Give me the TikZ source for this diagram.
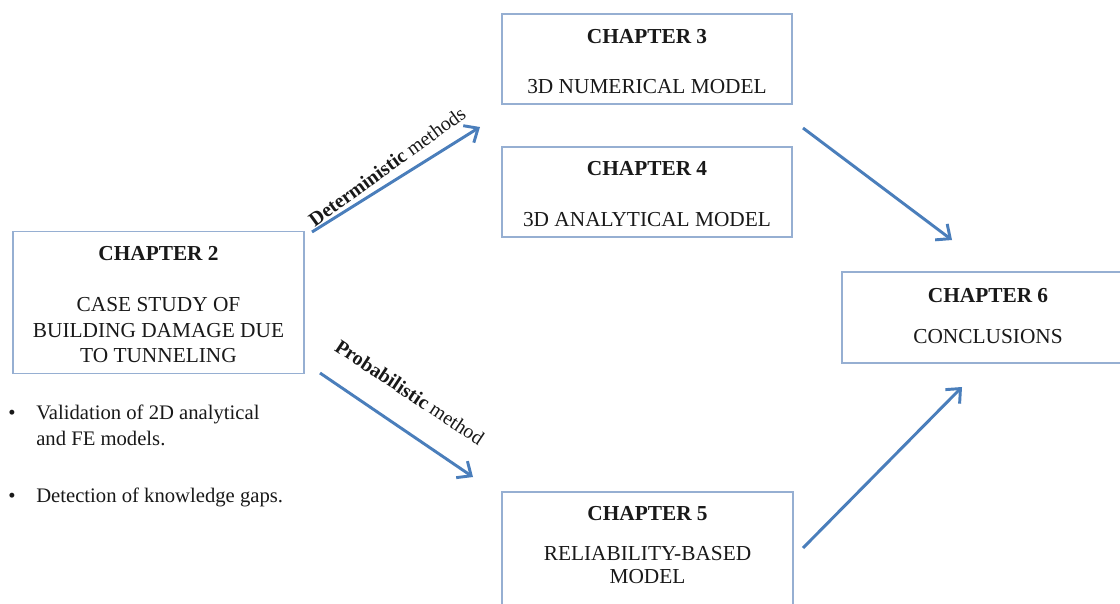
\documentclass[tikz,border=0pt]{standalone}
\usepackage{fontspec}
\setmainfont{Liberation Serif}
\usetikzlibrary{arrows.meta}
\definecolor{boxline}{RGB}{150,175,210}
\definecolor{arrowblue}{RGB}{74,126,187}
\definecolor{txt}{RGB}{25,25,25}
\begin{document}
\begin{tikzpicture}[x=0.75pt,y=-0.75pt,
 chbox/.style={draw=boxline,line width=1pt,rectangle,inner sep=0pt},
 ttl/.style={anchor=base,inner sep=0pt,text=txt,font=\fontsize{16}{19}\selectfont\bfseries},
 body/.style={anchor=base,inner sep=0pt,text=txt,font=\fontsize{16}{19}\selectfont},
 blt/.style={anchor=base west,inner sep=0pt,text=txt,font=\fontsize{15.5}{19}\selectfont},
 conn/.style={draw=arrowblue,line width=2.2pt,-{Straight Barb[length=8.5pt,width=15pt]}},
 lbl/.style={anchor=base,inner sep=0pt,text=txt,font=\fontsize{15}{18}\selectfont}]
\useasboundingbox (0,0) rectangle (1120,603);
\clip (0,0) rectangle (1120,603);
\fill[white] (0,0) rectangle (1120,603);

% boxes
\node[chbox,minimum width=218.25pt,minimum height=106.5pt] (c2) at (158.5,302.5) {};
\node[chbox,minimum width=217.5pt,minimum height=67.5pt] (c3) at (647,59) {};
\node[chbox,minimum width=217.5pt,minimum height=67.5pt] (c4) at (647,192) {};
\node[chbox,minimum width=218.25pt,minimum height=96pt] (c5) at (647.5,556) {};
\node[chbox,minimum width=219pt,minimum height=68.25pt] (c6) at (988,317.5) {};

% texts
\node[ttl] (c2a) at (158.5,260) {CHAPTER 2};
\node[body] (c2b) at (158.5,311) {CASE STUDY OF};
\node[body] (c2c) at (158.5,337) {BUILDING DAMAGE DUE};
\node[body] (c2d) at (158.5,362) {TO TUNNELING};

\node[ttl] (c3a) at (647,43) {CHAPTER 3};
\node[body] (c3b) at (647,93) {3D NUMERICAL MODEL};

\node[ttl] (c4a) at (647,175) {CHAPTER 4};
\node[body] (c4b) at (647,226) {3D ANALYTICAL MODEL};

\node[ttl] (c5a) at (647.5,520) {CHAPTER 5};
\node[body] (c5b) at (647.5,560) {RELIABILITY-BASED};
\node[body] (c5c) at (647.5,583) {MODEL};

\node[ttl] (c6a) at (988,302) {CHAPTER 6};
\node[body] (c6b) at (988,343) {CONCLUSIONS};

% bullets
\node[blt] (b1) at (8,419) {•};
\node[blt] (b1t) at (36,419) {Validation of 2D analytical};
\node[blt] (b1u) at (36,445) {and FE models.};
\node[blt] (b2) at (8,502) {•};
\node[blt] (b2t) at (36,502) {Detection of knowledge gaps.};

% arrow ends
\coordinate (a1s) at (312,232);
\coordinate (a1e) at (480,127);
\coordinate (a2s) at (320,373);
\coordinate (a2e) at (473,477);
\coordinate (a3s) at (803,128);
\coordinate (a3e) at (952,240);
\coordinate (a4s) at (803,548);
\coordinate (a4e) at (962,387);

\draw[conn] (a1s) -- (a1e);
\draw[conn] (a2s) -- (a2e);
\draw[conn] (a3s) -- (a3e);
\draw[conn] (a4s) -- (a4e);

% labels
\node[lbl,rotate=36] (ldet) at (391,172) {\textbf{Deterministic} methods};
\node[lbl,rotate=-33.5] (lprob) at (406,398) {\textbf{Probabilistic} method};
\end{tikzpicture}
\end{document}
